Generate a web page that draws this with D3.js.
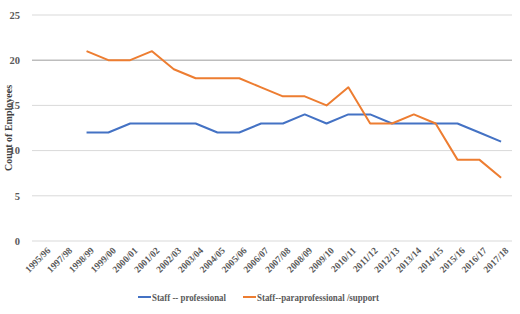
<!DOCTYPE html>
<html>
<head>
<meta charset="utf-8">
<script src="https://cdn.jsdelivr.net/npm/d3@7"></script>
<style>
  body { margin: 0; background: #fff; }
  text { font-family: "Liberation Serif", "Times New Roman", serif; }
</style>
</head>
<body>
<div id="chart"></div>
<script>
// Chart data
const years = ["1995/96", "1997/98", "1998/99", "1999/00", "2000/01", "2001/02", "2002/03",
  "2003/04", "2004/05", "2005/06", "2006/07", "2007/08", "2008/09", "2009/10", "2010/11",
  "2011/12", "2012/13", "2013/14", "2014/15", "2015/16", "2016/17", "2017/18"];
const professional = [null, null, 12, 12, 13, 13, 13, 13, 12, 12, 13, 13, 14, 13, 14, 14, 13, 13, 13, 13, 12, 11];
const paraprofessional = [null, null, 21, 20, 20, 21, 19, 18, 18, 18, 17, 16, 16, 15, 17, 13, 13, 14, 13, 9, 9, 7];
const seriesNames = ["Staff -- professional", "Staff--paraprofessional /support"];
const yTicks = [0, 5, 10, 15, 20, 25];

const width = 520, height = 314;
const margin = { top: 15, right: 8, bottom: 73, left: 32 };
const innerW = width - margin.left - margin.right;
const innerH = height - margin.top - margin.bottom;

const svg = d3.select("#chart").append("svg")
  .attr("width", width).attr("height", height);
const g = svg.append("g").attr("transform", `translate(${margin.left},${margin.top})`);

const x = d3.scaleBand().domain(years).range([0, innerW]);
const y = d3.scaleLinear().domain([0, 25]).range([innerH, 0]);
const color = d3.scaleOrdinal().domain(seriesNames).range(["#4472C4", "#ED7D31"]);

// Gridlines
g.append("g").selectAll("line").data(yTicks).join("line")
  .attr("x1", 0).attr("x2", innerW)
  .attr("y1", d => y(d)).attr("y2", d => y(d))
  .attr("stroke", d => d === 20 ? "#bdbdbd" : "#d9d9d9")
  .attr("stroke-width", d => d === 20 ? 1.5 : 1);

// Y axis labels
const yAxis = g.append("g").call(d3.axisLeft(y).tickValues(yTicks).tickSize(0).tickPadding(12));
yAxis.select(".domain").remove();
yAxis.selectAll("text")
  .attr("font-family", "Liberation Serif, serif")
  .attr("font-size", 10.5).attr("font-weight", "bold").attr("fill", "#595959");

// X axis labels
const xAxis = g.append("g").attr("transform", `translate(0,${innerH})`)
  .call(d3.axisBottom(x).tickSize(0));
xAxis.select(".domain").remove();
xAxis.selectAll("text")
  .attr("font-family", "Liberation Serif, serif")
  .attr("font-size", 9.5).attr("font-weight", "bold").attr("fill", "#595959")
  .attr("text-anchor", "end")
  .attr("dy", "0.3em")
  .attr("transform", "translate(4,6) rotate(-45)");

// Y axis title
svg.append("text")
  .attr("transform", `translate(12,${margin.top + innerH / 2}) rotate(-90)`)
  .attr("text-anchor", "middle")
  .attr("font-size", 10).attr("font-weight", "bold").attr("fill", "#404040")
  .text("Count of Employees");

// Lines
const line = d3.line()
  .defined(d => d.v != null)
  .x(d => x(d.year) + x.bandwidth() / 2)
  .y(d => y(d.v));

[professional, paraprofessional].forEach((vals, i) => {
  g.append("path")
    .datum(years.map((yr, j) => ({ year: yr, v: vals[j] })))
    .attr("fill", "none")
    .attr("stroke", color(seriesNames[i]))
    .attr("stroke-width", 2)
    .attr("stroke-linejoin", "round")
    .attr("d", line);
});

// Legend (condensed text like the original)
const legendX = [138, 243];
const legendLen = [74, 122];
const legend = svg.append("g").attr("transform", "translate(0,297)");
seriesNames.forEach((name, i) => {
  legend.append("line")
    .attr("x1", legendX[i]).attr("x2", legendX[i] + 13)
    .attr("y1", 0).attr("y2", 0)
    .attr("stroke", color(name)).attr("stroke-width", 2);
  legend.append("text")
    .attr("x", legendX[i] + 14).attr("y", 0).attr("dy", "0.35em")
    .attr("font-size", 10.5).attr("font-weight", "bold").attr("fill", "#595959")
    .attr("textLength", legendLen[i]).attr("lengthAdjust", "spacingAndGlyphs")
    .text(name);
});
</script>
</body>
</html>
